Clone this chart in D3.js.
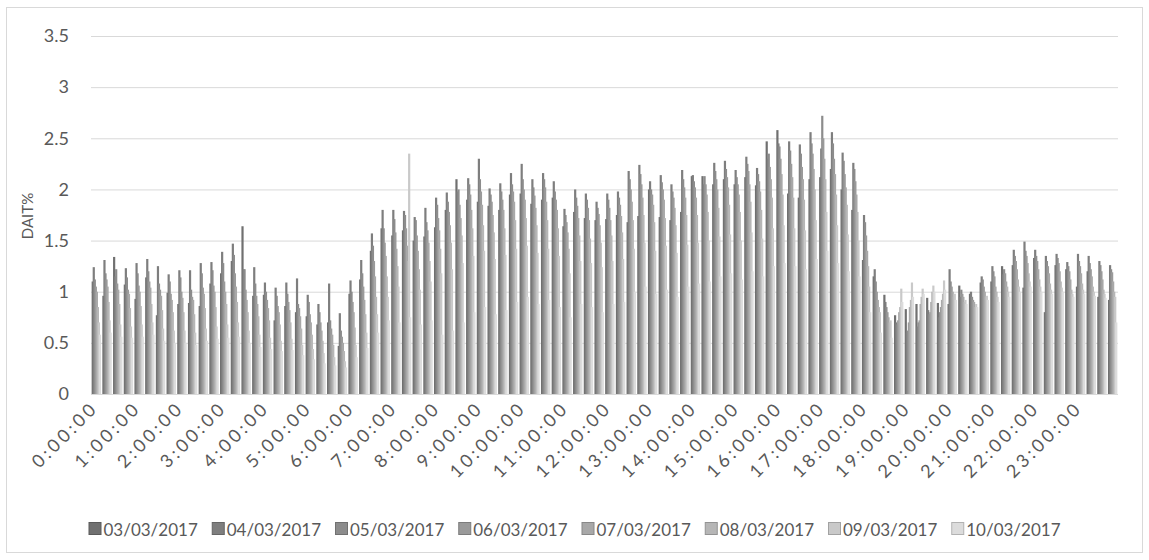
<!DOCTYPE html>
<html>
<head>
<meta charset="utf-8">
<script src="https://cdn.jsdelivr.net/npm/d3@7"></script>
<style>
  body { margin: 0; background: #fff; }
  svg text { font-family: Lato, "Open Sans", sans-serif; fill: #595959; }
</style>
</head>
<body>
<div id="chart"></div>
<script>
// chart data: DAIT% every 15 min, one array per day

var dates = ["03/03/2017", "04/03/2017", "05/03/2017", "06/03/2017",
             "07/03/2017", "08/03/2017", "09/03/2017", "10/03/2017"];

var colors = ["#707070", "#7e7e7e", "#8c8c8c", "#9a9a9a",
              "#a8a8a8", "#b6b6b6", "#c9c9c9", "#dcdcdc"];

var yTicks = [0, 0.5, 1, 1.5, 2, 2.5, 3, 3.5];

var hourLabels = ["0:00:00", "1:00:00", "2:00:00", "3:00:00", "4:00:00", "5:00:00",
  "6:00:00", "7:00:00", "8:00:00", "9:00:00", "10:00:00", "11:00:00", "12:00:00",
  "13:00:00", "14:00:00", "15:00:00", "16:00:00", "17:00:00", "18:00:00", "19:00:00",
  "20:00:00", "21:00:00", "22:00:00", "23:00:00"];

var quarters = [":00:00", ":15:00", ":30:00", ":45:00"];

var d0303 = [1.10,0.96,1.34,1.07, 0.93,1.14,0.77,0.99, 0.88,0.89,0.86,1.08, 1.18,1.30,1.64,0.96,
  0.97,0.72,0.86,0.80, 0.76,0.68,0.70,0.47, 0.98,1.12,1.40,1.62, 1.55,1.60,1.50,1.54,
  1.63,1.80,2.10,1.90, 1.88,1.84,1.80,1.95, 1.96,1.86,1.90,1.92, 1.64,1.78,1.72,1.70,
  1.71,1.75,1.68,1.74, 2.00,1.73,1.70,1.78, 2.13,2.13,2.05,2.10, 2.05,2.12,2.04,2.47,
  2.58,1.96,1.92,2.10, 2.12,2.20,2.00,1.80, 1.31,1.15,0.97,0.77, 0.83,0.88,0.94,0.89,
  0.88,1.06,0.98,1.09, 1.10,1.25,1.26,1.04, 1.33,0.80,1.26,1.22, 1.05,1.20,0.95,0.92];

var d0403 = [1.24,1.31,1.15,1.23, 1.28,1.32,1.25,1.17, 1.21,1.21,1.28,1.29, 1.39,1.47,1.22,1.24,
  1.09,1.04,1.09,1.13, 0.97,0.88,1.08,0.79, 1.11,1.31,1.57,1.80, 1.80,1.79,1.73,1.82,
  1.92,1.97,1.98,2.11, 2.30,2.01,2.06,2.16, 2.25,2.10,2.16,2.08, 1.81,2.00,1.96,1.88,
  1.96,1.98,2.18,2.24, 2.08,2.14,2.05,2.19, 2.14,2.05,2.26,2.28, 2.19,2.32,2.21,2.30,
  2.45,2.47,2.44,2.56, 2.40,2.56,2.36,2.26, 1.75,1.22,0.90,0.70, 0.60,0.66,0.82,0.75,
  1.22,0.95,1.00,1.15, 1.25,1.17,1.41,1.49, 1.41,1.35,1.37,1.29, 1.37,1.35,1.30,1.26];

var d0503 = [1.12,1.18,1.22,1.14, 1.18,1.20,1.08,1.10, 1.14,1.02,1.18,1.21, 1.28,1.36,1.22,1.08,
  1.00,0.96,0.98,0.88, 0.90,0.80,0.72,0.62, 1.00,1.18,1.45,1.62, 1.71,1.75,1.70,1.68,
  1.85,1.88,2.00,2.05, 2.10,1.95,1.98,2.05, 2.10,2.02,2.10,1.98, 1.75,1.92,1.90,1.82,
  1.90,1.92,2.10,2.15, 2.00,2.07,1.98,2.10, 2.08,2.13,2.18,2.20, 2.12,2.25,2.15,2.35,
  2.42,2.38,2.35,2.45, 2.72,2.45,2.28,2.20, 1.68,1.10,0.85,0.68, 0.62,0.70,0.78,0.80,
  1.10,1.02,0.95,1.12, 1.20,1.22,1.35,1.40, 1.35,1.30,1.33,1.25, 1.30,1.28,1.26,1.22];

var d0603 = [1.05,1.12,1.08,1.02, 1.06,1.10,1.02,0.98, 1.00,0.95,1.04,1.06, 1.10,1.18,1.02,0.96,
  0.92,0.86,0.90,0.84, 0.78,0.70,0.64,0.56, 0.90,1.05,1.30,1.48, 1.58,1.62,1.55,1.60,
  1.72,1.78,1.85,1.95, 1.98,1.88,1.90,1.98, 2.00,1.94,2.02,1.90, 1.68,1.84,1.82,1.76,
  1.82,1.85,2.00,2.05, 1.95,2.00,1.92,2.02, 2.02,2.05,2.10,2.12, 2.05,2.18,2.08,2.22,
  2.30,2.25,2.22,2.35, 2.50,2.30,2.15,2.08, 1.55,1.00,0.80,0.72, 0.70,0.72,0.80,0.85,
  1.05,0.98,0.92,1.05, 1.15,1.18,1.30,1.35, 1.30,1.25,1.28,1.20, 1.25,1.22,1.20,1.19];

var d0703 = [1.00,1.05,1.02,0.98, 1.00,1.04,0.96,0.92, 0.94,0.92,0.98,1.00, 1.00,1.05,0.92,0.88,
  0.84,0.80,0.82,0.76, 0.70,0.62,0.58,0.50, 0.80,0.92,1.15,1.35, 1.42,1.45,1.40,1.48,
  1.60,1.65,1.72,1.80, 1.85,1.75,1.80,1.88, 1.90,1.82,1.88,1.80, 1.58,1.72,1.70,1.65,
  1.70,1.74,1.88,1.92, 1.85,1.90,1.82,1.92, 1.92,1.95,2.00,2.02, 1.95,2.05,1.98,2.10,
  2.15,2.12,2.10,2.20, 2.30,2.15,2.02,1.95, 1.40,0.92,0.75,0.80, 0.85,0.88,0.90,0.92,
  1.00,0.95,0.90,1.00, 1.05,1.10,1.22,1.28, 1.22,1.18,1.20,1.12, 1.18,1.15,1.12,1.10];

var d0803 = [0.85,0.90,0.88,0.84, 0.86,0.88,0.82,0.80, 0.80,0.78,0.84,0.85, 0.88,0.90,0.80,0.76,
  0.72,0.68,0.70,0.64, 0.58,0.52,0.48,0.42, 0.65,0.78,0.95,1.15, 1.25,1.30,1.22,1.30,
  1.42,1.48,1.55,1.62, 1.65,1.58,1.62,1.70, 1.72,1.65,1.70,1.62, 1.42,1.55,1.52,1.48,
  1.55,1.58,1.70,1.75, 1.68,1.72,1.65,1.75, 1.75,1.78,1.82,1.85, 1.78,1.88,1.80,1.92,
  1.95,1.92,1.90,2.00, 2.10,1.95,1.85,1.78, 1.25,0.85,0.70,0.85, 0.92,0.95,1.00,0.98,
  0.95,0.90,0.85,0.95, 1.00,1.05,1.12,1.18, 1.12,1.08,1.10,1.02, 1.08,1.05,1.02,1.00];

var d0903 = [0.70,0.72,0.68,0.66, 0.68,0.70,0.64,0.62, 0.62,0.60,0.64,0.66, 0.68,0.70,0.62,0.58,
  0.55,0.52,0.54,0.48, 0.44,0.40,0.36,0.32, 0.48,0.60,0.78,0.95, 1.05,2.35,1.02,1.10,
  1.18,1.22,1.28,1.35, 1.40,1.32,1.36,1.42, 1.45,1.38,1.42,1.35, 1.18,1.30,1.28,1.24,
  1.30,1.32,1.42,1.48, 1.40,1.45,1.38,1.46, 1.48,1.50,1.54,1.56, 1.50,1.58,1.52,1.62,
  1.65,1.62,1.60,1.70, 1.78,1.65,1.56,1.50, 1.05,0.80,0.72,1.03, 1.09,1.03,1.06,1.11,
  0.98,0.92,0.88,0.96, 0.95,1.00,1.05,1.10, 1.05,1.02,1.04,0.98, 1.02,1.00,0.98,0.95];

var d1003 = [0.58,0.60,0.56,0.55, 0.56,0.58,0.52,0.50, 0.50,0.48,0.52,0.54, 0.55,0.56,0.50,0.46,
  0.44,0.42,0.43,0.38, 0.34,0.30,0.28,0.26, 0.36,0.45,0.60,0.72, 0.70,0.75,0.68,0.72,
  0.58,0.62,0.70,0.80, 0.85,0.78,0.82,0.90, 0.95,0.88,0.92,0.85, 0.75,0.88,0.85,0.80,
  0.88,0.90,1.00,1.05, 0.98,1.02,0.95,1.05, 1.08,1.10,1.15,1.18, 1.12,1.20,1.15,1.25,
  1.28,1.25,1.22,1.32, 1.40,1.28,1.20,1.15, 0.80,0.60,0.55,0.90, 0.95,0.98,1.00,1.02,
  0.92,0.88,0.85,0.92, 0.90,0.95,1.00,1.05, 1.00,0.98,1.00,0.95, 0.98,0.96,0.94,0.70];

var series = [d0303, d0403, d0503, d0603, d0703, d0803, d0903, d1003];

// 15 minute categories
var times = [];
hourLabels.forEach(function(h) {
  var hh = h.split(":")[0];
  quarters.forEach(function(q) { times.push(hh + q); });
});

var width = 1149, height = 560;
var margin = {top: 36, right: 31, bottom: 166, left: 91};

var svg = d3.select("#chart")
  .append("svg")
  .attr("width", width)
  .attr("height", height);

// chart border
svg.append("rect")
  .attr("x", 6.5).attr("y", 7.5)
  .attr("width", 1136).attr("height", 545)
  .attr("fill", "none")
  .attr("stroke", "#d9d9d9");

var xScale = d3.scaleBand()
  .domain(times)
  .range([margin.left, width - margin.right])
  .paddingInner(0.12)
  .paddingOuter(0.06);

var yScale = d3.scaleLinear()
  .domain([0, 3.5])
  .range([height - margin.bottom, margin.top]);

// gridlines + y labels
var yAxis = svg.append("g")
  .attr("transform", `translate(${margin.left}, 0)`)
  .call(d3.axisLeft(yScale).tickValues(yTicks)
    .tickSize(-(width - margin.left - margin.right))
    .tickFormat(function(d) { return d; }));
yAxis.select(".domain").remove();
yAxis.selectAll(".tick line").attr("stroke", "#d9d9d9");
yAxis.selectAll(".tick text")
  .attr("x", -22)
  .style("font-size", "18px");

// bars
var barW = 2.2;
var step = (xScale.bandwidth() - barW) / (dates.length - 1);

series.forEach(function(vals, k) {
  svg.append("g")
    .selectAll("rect")
    .data(vals)
    .enter()
    .append("rect")
    .attr("x", function(d, i) { return xScale(times[i]) + k * step; })
    .attr("y", function(d) { return yScale(d); })
    .attr("width", barW)
    .attr("height", function(d) { return yScale(0) - yScale(d); })
    .attr("fill", colors[k]);
});

// baseline
svg.append("line")
  .attr("x1", margin.left).attr("x2", width - margin.right)
  .attr("y1", yScale(0) + 0.5).attr("y2", yScale(0) + 0.5)
  .attr("stroke", "#d9d9d9");

// x labels, one per hour
var xAxis = svg.append("g")
  .attr("transform", `translate(0, ${yScale(0)})`)
  .call(d3.axisBottom(xScale)
    .tickValues(times.filter(function(d, i) { return i % 4 === 0; }))
    .tickSize(0)
    .tickFormat(function(d) { return hourLabels[times.indexOf(d) / 4]; }));
xAxis.select(".domain").remove();
xAxis.selectAll("text")
  .style("text-anchor", "end")
  .style("font-size", "18px")
  .style("letter-spacing", "3.4px")
  .attr("dx", "0")
  .attr("dy", "0")
  .attr("y", 0)
  .attr("transform", "translate(3, 15) rotate(-45)");

// axis title
svg.append("text")
  .attr("transform", "rotate(-90)")
  .attr("x", -216)
  .attr("y", 33)
  .attr("text-anchor", "middle")
  .style("font-size", "15px")
  .text("DAIT%");

// legend, centred
var legend = svg.append("g").attr("transform", "translate(0, 529)");
var lx = 0;
var items = [];
dates.forEach(function(d, k) {
  var g = legend.append("g");
  g.append("rect")
    .attr("x", 0.5).attr("y", -6.5)
    .attr("width", 12).attr("height", 12)
    .attr("fill", colors[k])
    .attr("stroke", d3.color(colors[k]).darker(0.6));
  var t = g.append("text")
    .attr("x", 15).attr("y", 6.5)
    .style("font-size", "17px")
    .text(d);
  var w = 15 + t.node().getComputedTextLength();
  items.push({g: g, x: lx});
  lx += w + 14;
});
var total = lx - 14;
var start = (width - total) / 2;
items.forEach(function(it) {
  it.g.attr("transform", `translate(${start + it.x}, 0)`);
});
</script>
</body>
</html>
